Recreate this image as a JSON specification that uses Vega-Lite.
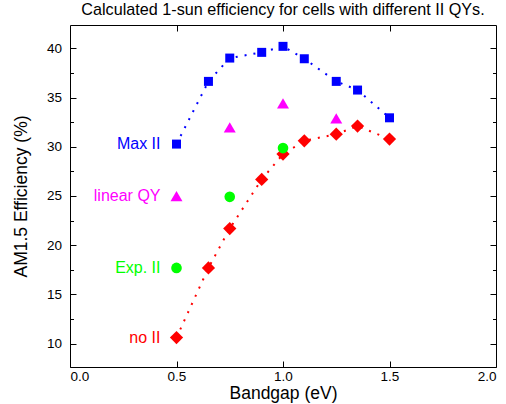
{
  "$schema": "https://vega.github.io/schema/vega-lite/v6.json",
  "width": 426,
  "height": 342,
  "autosize": {"type": "none"},
  "padding": {"left": 70, "top": 25, "right": 10, "bottom": 37},
  "background": "white",
  "title": {
    "text": "Calculated 1-sun efficiency for cells with different II QYs.",
    "font": "Liberation Sans",
    "fontSize": 16.2,
    "fontWeight": "normal",
    "color": "#000",
    "anchor": "middle",
    "frame": "group",
    "baseline": "bottom",
    "offset": -10
  },
  "config": {
    "view": {"stroke": "#000", "strokeWidth": 1},
    "axis": {
      "domain": false,
      "grid": false,
      "labelFont": "Liberation Sans",
      "titleFont": "Liberation Sans",
      "labelFontSize": 13.5,
      "titleFontSize": 17.5,
      "titleFontWeight": "normal",
      "labelColor": "#000",
      "titleColor": "#000",
      "tickColor": "#000",
      "tickWidth": 1
    }
  },
  "datasets": {
    "pts": [
      {"series": "Max II", "x": 0.5, "y": 30.27},
      {"series": "Max II", "x": 0.65, "y": 36.64},
      {"series": "Max II", "x": 0.75, "y": 39.01},
      {"series": "Max II", "x": 0.9, "y": 39.59},
      {"series": "Max II", "x": 1.0, "y": 40.2},
      {"series": "Max II", "x": 1.1, "y": 38.94},
      {"series": "Max II", "x": 1.25, "y": 36.64},
      {"series": "Max II", "x": 1.35, "y": 35.76},
      {"series": "Max II", "x": 1.5, "y": 32.94},
      {"series": "no II", "x": 0.5, "y": 10.61},
      {"series": "no II", "x": 0.65, "y": 17.69},
      {"series": "no II", "x": 0.75, "y": 21.69},
      {"series": "no II", "x": 0.9, "y": 26.68},
      {"series": "no II", "x": 1.0, "y": 29.25},
      {"series": "no II", "x": 1.1, "y": 30.6},
      {"series": "no II", "x": 1.25, "y": 31.28},
      {"series": "no II", "x": 1.35, "y": 32.1},
      {"series": "no II", "x": 1.5, "y": 30.78},
      {"series": "linear QY", "x": 0.5, "y": 24.98},
      {"series": "linear QY", "x": 0.75, "y": 31.97},
      {"series": "linear QY", "x": 1.0, "y": 34.41},
      {"series": "linear QY", "x": 1.25, "y": 32.88},
      {"series": "Exp. II", "x": 0.5, "y": 17.69},
      {"series": "Exp. II", "x": 0.75, "y": 24.91},
      {"series": "Exp. II", "x": 1.0, "y": 29.86}
    ]
  },
  "layer": [
    {
      "data": {"name": "pts"},
      "transform": [{"filter": "datum.series === 'Max II' || datum.series === 'no II'"}],
      "mark": {"type": "line", "strokeDash": [2, 7], "strokeWidth": 2},
      "encoding": {
        "x": {"field": "x", "type": "quantitative", "scale": {"domain": [0, 2], "nice": false, "zero": false},
          "axis": {"orient": "bottom", "values": [0, 0.5, 1, 1.5, 2], "format": ".1f", "tickSize": -6, "labelPadding": 8, "title": "Bandgap (eV)", "titlePadding": 2}},
        "y": {"field": "y", "type": "quantitative", "scale": {"domain": [7.62, 42.37], "nice": false, "zero": false},
          "axis": {"orient": "left", "values": [10, 15, 20, 25, 30, 35, 40], "tickSize": -6, "labelPadding": 14.5, "title": "AM1.5 Efficiency (%)", "titlePadding": 16}},
        "color": {"field": "series", "type": "nominal",
          "scale": {"domain": ["Max II", "linear QY", "Exp. II", "no II"], "range": ["#0000ff", "#ff00ff", "#00ff00", "#ff0000"]},
          "legend": null},
        "detail": {"field": "series"}
      }
    },
    {
      "data": {"name": "pts"},
      "transform": [{"filter": "datum.series === 'no II'"}],
      "mark": {"type": "point", "filled": true, "opacity": 1, "strokeWidth": 0},
      "encoding": {
        "x": {"field": "x", "type": "quantitative",
          "axis": {"orient": "top", "values": [0.5, 1, 1.5], "labels": false, "tickSize": -6, "title": null}},
        "y": {"field": "y", "type": "quantitative",
          "axis": {"orient": "right", "values": [10, 15, 20, 25, 30, 35, 40], "labels": false, "tickSize": -6, "title": null}},
        "color": {"field": "series", "type": "nominal", "legend": null},
        "shape": {"field": "series", "type": "nominal",
          "scale": {"domain": ["Max II", "linear QY", "Exp. II", "no II"], "range": ["square", "triangle-up", "circle", "diamond"]},
          "legend": null},
        "size": {"field": "series", "type": "nominal",
          "scale": {"domain": ["Max II", "Exp. II", "linear QY", "no II"], "range": [81, 175]},
          "legend": null}
      }
    },
    {
      "data": {"name": "pts"},
      "transform": [{"filter": "datum.series !== 'no II'"}],
      "mark": {"type": "point", "filled": true, "opacity": 1, "strokeWidth": 0},
      "encoding": {
        "x": {"field": "x", "type": "quantitative", "axis": null},
        "y": {"field": "y", "type": "quantitative",
          "axis": {"orient": "right", "values": [12.5, 17.5, 22.5, 27.5, 32.5, 37.5], "labels": false, "tickSize": -3.5, "title": null}},
        "color": {"field": "series", "type": "nominal", "legend": null},
        "shape": {"field": "series", "type": "nominal", "legend": null},
        "size": {"field": "series", "type": "nominal", "legend": null}
      }
    },
    {
      "data": {"name": "pts"},
      "transform": [{"filter": "datum.x === 0.5"}],
      "mark": {"type": "text", "align": "right", "baseline": "middle", "dx": -16, "font": "Liberation Sans", "fontSize": 16},
      "encoding": {
        "x": {"field": "x", "type": "quantitative", "axis": null},
        "y": {"field": "y", "type": "quantitative",
          "axis": {"orient": "left", "values": [12.5, 17.5, 22.5, 27.5, 32.5, 37.5], "labels": false, "tickSize": -3.5, "title": null}},
        "text": {"field": "series"},
        "color": {"field": "series", "type": "nominal", "legend": null}
      }
    }
  ],
  "resolve": {"axis": {"x": "independent", "y": "independent"}}
}
